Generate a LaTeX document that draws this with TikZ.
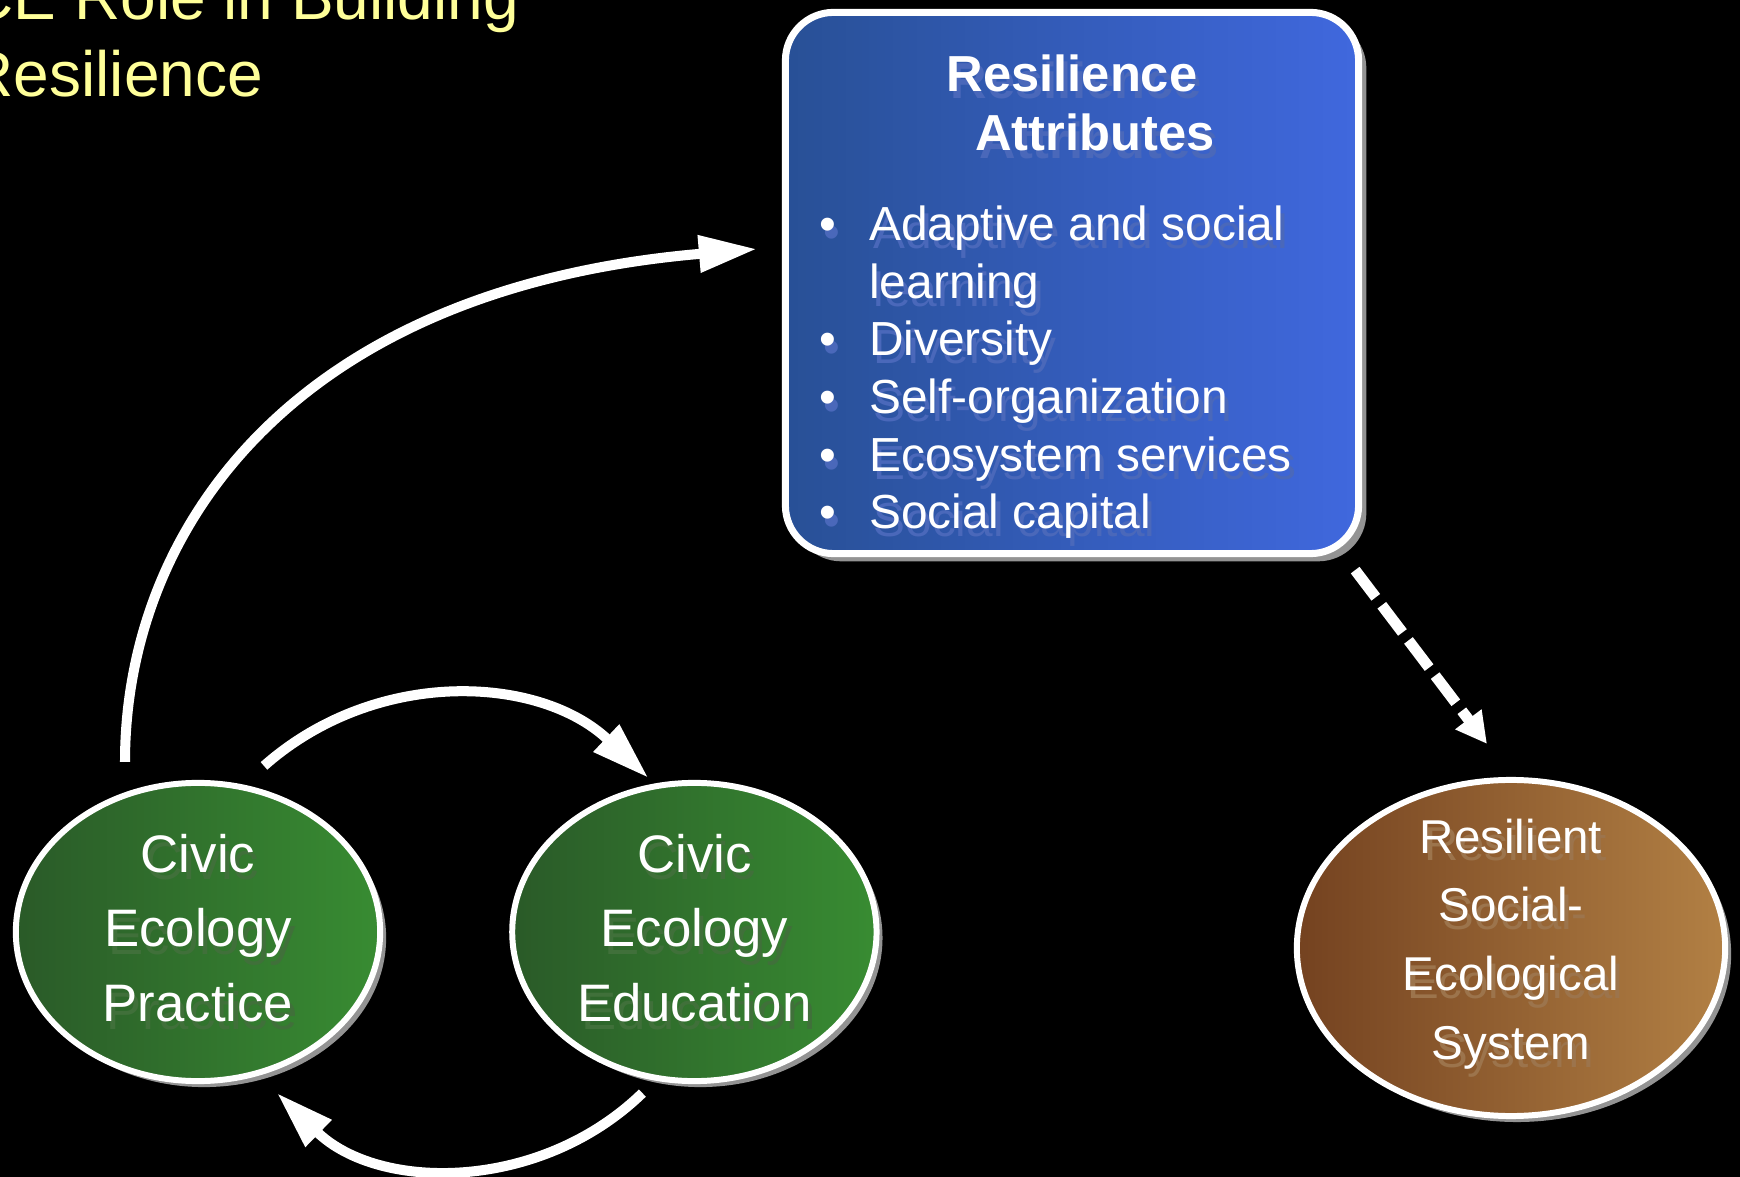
\documentclass[tikz,border=0pt]{standalone}
\usepackage{fontspec}
\setmainfont{Liberation Sans}
\usepackage{tikz}
\usetikzlibrary{shapes.geometric,arrows.meta,shadows,positioning}
\definecolor{titleyellow}{RGB}{255,255,153}
\definecolor{boxleft}{RGB}{40,80,150}
\definecolor{boxright}{RGB}{64,104,222}
\definecolor{greenleft}{RGB}{42,90,40}
\definecolor{greenright}{RGB}{56,140,50}
\definecolor{brownleft}{RGB}{116,66,32}
\definecolor{brownright}{RGB}{178,128,68}
\definecolor{ghostblue}{RGB}{74,104,186}
\definecolor{ghostgreen}{RGB}{64,112,58}
\definecolor{ghostbrown}{RGB}{156,116,76}
\colorlet{ghost}{gray}
\newcommand{\gh}[1]{\rlap{\kern1.2pt\raisebox{-2.2pt}{\textcolor{ghost}{#1}}}#1}
\newcommand{\bul}[1]{\makebox[14.1pt][l]{\gh{\textbullet}}\gh{#1}}
\tikzstyle{blob}=[ellipse,draw=white,line width=1.7pt,text=white,inner sep=0pt,align=center,
  general shadow={fill=gray!85,shadow xshift=1.7pt,shadow yshift=-1.7pt}]
\tikzstyle{greenblob}=[blob,left color=greenleft,right color=greenright,
  minimum width=103.6pt,minimum height=84.8pt,
  font=\fontsize{15pt}{21.3pt}\selectfont,execute at begin node={\colorlet{ghost}{ghostgreen}}]
\tikzstyle{brownblob}=[blob,left color=brownleft,right color=brownright,
  minimum width=121.8pt,minimum height=93.9pt,inner ysep=-3pt,
  font=\fontsize{13.5pt}{19.6pt}\selectfont,execute at begin node={\colorlet{ghost}{ghostbrown}}]
\tikzstyle{attrbox}=[rectangle,rounded corners=13.7pt,draw=white,line width=2pt,
  left color=boxleft,right color=boxright,minimum width=163pt,minimum height=153.9pt,
  general shadow={fill=gray!85,shadow xshift=2.2pt,shadow yshift=-2.2pt}]
\tikzstyle{flow}=[draw=white,line width=2.85pt,-{Triangle[length=16.5pt,width=10pt]}]
\tikzstyle{dashflow}=[draw=white,line width=3.1pt,dash pattern=on 9.7pt off 2.85pt,
  -{Triangle[length=8.8pt,width=8.8pt]}]

\begin{document}
\begin{tikzpicture}[x=0.01cm,y=-0.01cm]
\useasboundingbox (0,0) rectangle (1740,1177);
\clip (0,0) rectangle (1740,1177);
\fill[black] (0,0) rectangle (1740,1177);

\node[font=\fontsize{18.2pt}{21.9pt}\selectfont,text=titleyellow,align=left,
  anchor=base west,inner sep=0pt] (title) at (-33,97) {CE Role in Building\\Resilience};

% resilience attributes
\node[attrbox] (attr) at (1072,283) {};
\node[font=\bfseries\fontsize{14.4pt}{17pt}\selectfont,text=white,align=center,anchor=base,
  inner sep=0pt,execute at begin node={\colorlet{ghost}{ghostblue}}] (head) at (1072,151)
  {\gh{Resilience}\\\hspace*{13pt}\gh{Attributes}};
\node[font=\fontsize{13.6pt}{16.4pt}\selectfont,text=white,align=left,anchor=base west,
  inner sep=0pt,execute at begin node={\colorlet{ghost}{ghostblue}}] (items) at (819,529)
  {\bul{Adaptive and social}\\
   \hspace*{14.1pt}\gh{learning}\\
   \bul{Diversity}\\
   \bul{Self-organization}\\
   \bul{Ecosystem services}\\
   \bul{Social capital}};

% the three systems
\node[greenblob] (prac) at (198,932) {\gh{Civic}\\\gh{Ecology}\\\gh{Practice}};
\node[greenblob,right=1.26cm of prac] (edu) {\gh{Civic}\\\gh{Ecology}\\\gh{Education}};
\node[brownblob] (sys) at (1511,948) {\gh{Resilient}\\\gh{Social-}\\\gh{Ecological}\\\gh{System}};

% arrows
\draw[flow] ([shift={(-73,-18)}]prac.north) .. controls +(0,-228) and +(-469,40) .. ([shift={(-25,-34)}]attr.west);
\draw[flow] ([shift={(66,-14)}]prac.north) .. controls +(112,-99) and +(-109,-103) .. ([shift={(-46,-2)}]edu.north);
\draw[flow] ([shift={(-52,9)}]edu.south) .. controls +(-102,99) and +(102,99) .. ([shift={(79,9)}]prac.south);
\draw[dashflow] ([shift={(-7,13)}]attr.south east) -- ([shift={(-24,-33)}]sys.north);

\end{tikzpicture}
\end{document}
